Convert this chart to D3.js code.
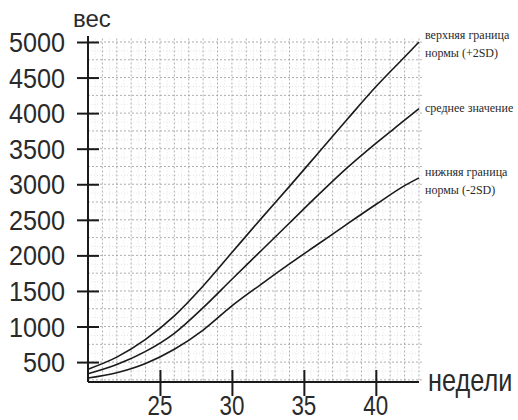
<!DOCTYPE html>
<html lang="ru">
<head>
<meta charset="UTF-8">
<title>вес по неделям</title>
<script src="https://d3js.org/d3.v7.min.js"></script>
<style>
  body { margin: 0; background: #fff; }
  .grid line { stroke: #9a9a9a; stroke-width: 0.8; stroke-dasharray: 2,2; }
  .grid2 line { stroke: #d4d4d4; stroke-width: 0.6; stroke-dasharray: 1,2; }
</style>
</head>
<body>
<div id="chart"></div>
<script>
// недели (gestational weeks)
var weeks = [20, 22, 24, 26, 28, 30, 32, 34, 36, 38, 40, 42, 43];
// веса по линиям, г
var upper = [400, 570, 820, 1150, 1570, 2040, 2510, 2970, 3440, 3910, 4370, 4790, 5000];
var mean  = [335, 465, 650, 905, 1265, 1665, 2060, 2455, 2850, 3230, 3575, 3900, 4065];
var lower = [276, 350, 480, 680, 950, 1290, 1590, 1880, 2160, 2440, 2715, 2980, 3090];

var xTicks = [25, 30, 35, 40];
var yTicks = [500, 1000, 1500, 2000, 2500, 3000, 3500, 4000, 4500, 5000];

var labels = [
  {lines: ["верхняя граница", "нормы (+2SD)"], y0: 39},
  {lines: ["среднее значение"], y0: 112},
  {lines: ["нижняя граница", "нормы (-2SD)"], y0: 176}
];

var width = 518, height = 420;

var svg = d3.select("#chart")
  .append("svg")
    .attr("width", width)
    .attr("height", height);

var x = d3.scaleLinear().domain([20, 43]).range([88, 419]);
var y = d3.scaleLinear().domain([220, 5000]).range([382, 42]);

// graph paper
svg.append("g").attr("class", "grid2")
  .selectAll("line")
  .data(d3.range(20.5, 43.5, 1))
  .enter().append("line")
    .attr("x1", function(d) { return x(d); })
    .attr("x2", function(d) { return x(d); })
    .attr("y1", y(5050)).attr("y2", y(220));

svg.append("g").attr("class", "grid2")
  .selectAll("line")
  .data(d3.range(375, 5000, 250))
  .enter().append("line")
    .attr("x1", x(20)).attr("x2", x(43.2))
    .attr("y1", function(d) { return y(d); })
    .attr("y2", function(d) { return y(d); });

svg.append("g").attr("class", "grid")
  .selectAll("line")
  .data(d3.range(21, 44, 1))
  .enter().append("line")
    .attr("x1", function(d) { return x(d); })
    .attr("x2", function(d) { return x(d); })
    .attr("y1", y(5050)).attr("y2", y(220));

svg.append("g").attr("class", "grid")
  .selectAll("line")
  .data(d3.range(250, 5001, 250))
  .enter().append("line")
    .attr("x1", x(20)).attr("x2", x(43.2))
    .attr("y1", function(d) { return y(d); })
    .attr("y2", function(d) { return y(d); });

// axes
var yAxis = svg.append("g")
  .attr("transform", "translate(" + x(20) + ",0)")
  .call(d3.axisLeft(y).tickValues(yTicks).tickSize(11).tickFormat(""));
yAxis.select(".domain").attr("d", "M0," + (y(5000) - 6) + "V" + y(220));
yAxis.selectAll(".tick line").attr("x1", -11).attr("x2", 11);

var xAxis = svg.append("g")
  .attr("transform", "translate(0," + y(220) + ")")
  .call(d3.axisBottom(x).tickValues(xTicks).tickSize(14).tickFormat(""));
xAxis.select(".domain").attr("d", "M" + x(20) + ",0H" + x(43));
xAxis.selectAll(".tick line").attr("y1", -12).attr("y2", 14);

svg.selectAll(".domain, .tick line")
  .attr("stroke", "#1a1a1a").attr("stroke-width", 2);

// tick labels
svg.append("g").selectAll("text")
  .data(yTicks)
  .enter().append("text")
    .attr("transform", function(d) { return "translate(65," + (y(d) + 10) + ") scale(0.9,1)"; })
    .attr("text-anchor", "end")
    .attr("font-family", "Liberation Sans, Arial, sans-serif")
    .attr("font-size", 28)
    .attr("fill", "#2a2a2a")
    .text(function(d) { return d; });

svg.append("g").selectAll("text")
  .data(xTicks)
  .enter().append("text")
    .attr("transform", function(d) { return "translate(" + x(d) + ",415) scale(0.8,1)"; })
    .attr("text-anchor", "middle")
    .attr("font-family", "Liberation Sans, Arial, sans-serif")
    .attr("font-size", 28)
    .attr("fill", "#2a2a2a")
    .text(function(d) { return d; });

svg.append("text")
  .attr("x", 73).attr("y", 27)
  .attr("font-family", "Liberation Sans, Arial, sans-serif")
  .attr("font-size", 24)
  .attr("fill", "#2a2a2a")
  .text("вес");

svg.append("text")
  .attr("transform", "translate(428,391) scale(0.79,1)")
  .attr("font-family", "Liberation Sans, Arial, sans-serif")
  .attr("font-size", 32)
  .attr("fill", "#2a2a2a")
  .text("недели");

// curves
var line = d3.line()
  .x(function(d, i) { return x(weeks[i]); })
  .y(function(d) { return y(d); })
  .curve(d3.curveMonotoneX);

[upper, mean, lower].forEach(function(s) {
  svg.append("path")
    .datum(s)
    .attr("d", line)
    .attr("fill", "none")
    .attr("stroke", "#1a1a1a")
    .attr("stroke-width", 1.6);
});

// curve labels
labels.forEach(function(l) {
  l.lines.forEach(function(t, i) {
    svg.append("text")
      .attr("x", 425).attr("y", l.y0 + i * 18)
      .attr("font-family", "Liberation Serif, Times New Roman, serif")
      .attr("font-size", 12)
      .attr("fill", "#2a2a2a")
      .text(t);
  });
});
</script>
</body>
</html>
